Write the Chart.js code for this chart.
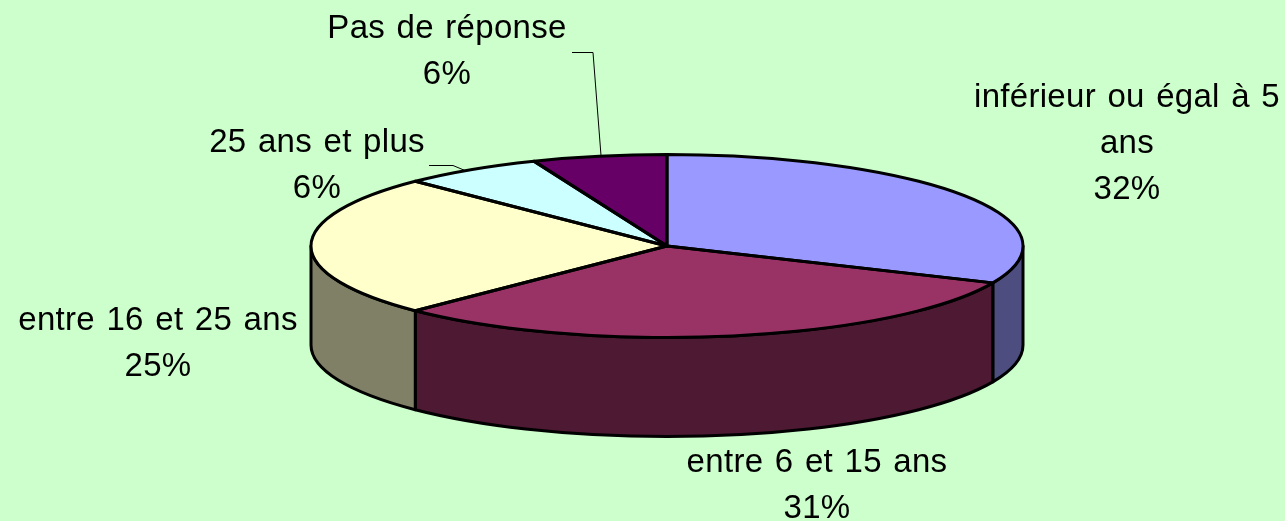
<!DOCTYPE html>
<html lang="fr">
<head>
<meta charset="utf-8">
<title>Répartition</title>
<script src="https://cdn.jsdelivr.net/npm/chart.js@4/dist/chart.umd.min.js"></script>
<style>
html,body{margin:0;padding:0;background:#CCFFCC;overflow:hidden}
canvas{display:block}
</style>
</head>
<body>
<canvas id="c" width="1285" height="521"></canvas>
<script>
const categories = ["inférieur ou égal à 5 ans","entre 6 et 15 ans","entre 16 et 25 ans","25 ans et plus","Pas de réponse"];
const sliceValues = [31.6,30.9,25.0,6.4,6.1];
const percentLabels = ["32%","31%","25%","6%","6%"];
const topColors = ["#9999FF","#993366","#FFFFCC","#CCFFFF","#660066"];
const wallColors = ["#4D4D80","#4D1933","#808066","#668080","#330033"];

const labelLines = [["inférieur ou égal à 5","ans"],["entre 6 et 15 ans"],["entre 16 et 25 ans"],["25 ans et plus"],["Pas de réponse"]];
const labelAnchors = [[1127,107],[817,472],[158,330],[317,152],[447,38]];
const leaders = [null,null,null,[[429,165],[453,165],[465,170]],[[572,52],[593,52],[601,155]]];

const SX = 356/200, SY = 91.5/200, WALL = 99, LH = 46;

function arcsOf(chart){ return chart.getDatasetMeta(0).data; }

const pie3d = {
  id:'pie3d',
  beforeDraw(chart){
    const c = chart.ctx;
    c.save(); c.fillStyle = '#CCFFCC'; c.fillRect(0,0,chart.width,chart.height); c.restore();
  },
  beforeDatasetsDraw(chart){
    const c = chart.ctx;
    c.save();
    c.lineWidth = 3; c.strokeStyle = '#000'; c.lineJoin = 'round';
    arcsOf(chart).forEach((el,i)=>{
      const a = Math.max(el.startAngle,0), b = Math.min(el.endAngle,Math.PI);
      if (b <= a) return;
      const rx = el.outerRadius*SX, ry = el.outerRadius*SY;
      c.beginPath();
      c.ellipse(el.x,el.y,rx,ry,0,a,b,false);
      c.ellipse(el.x,el.y+WALL,rx,ry,0,b,a,true);
      c.closePath();
      c.fillStyle = wallColors[i];
      c.fill(); c.stroke();
    });
    c.restore();
    const m = arcsOf(chart)[0];
    c.save();
    c.translate(m.x,m.y); c.scale(SX,SY); c.translate(-m.x,-m.y);
  },
  afterDatasetsDraw(chart){
    const c = chart.ctx;
    c.restore();
    c.save();
    c.lineWidth = 3; c.strokeStyle = '#000'; c.lineJoin = 'round';
    arcsOf(chart).forEach(el=>{
      c.beginPath();
      c.moveTo(el.x,el.y);
      c.ellipse(el.x,el.y,el.outerRadius*SX,el.outerRadius*SY,0,el.startAngle,el.endAngle,false);
      c.closePath();
      c.stroke();
    });
    c.restore();
  },
  afterDraw(chart){
    const c = chart.ctx;
    c.save();
    c.strokeStyle = '#000'; c.lineWidth = 1;
    leaders.forEach(l=>{
      if(!l) return;
      c.beginPath();
      l.forEach((p,i)=> i ? c.lineTo(p[0],p[1]+.5) : c.moveTo(p[0],p[1]+.5));
      c.stroke();
    });
    c.fillStyle = '#000';
    c.font = '33px "Liberation Sans", Arial, sans-serif';
    c.letterSpacing = '0.3px';
    c.wordSpacing = '2px';
    c.textAlign = 'center'; c.textBaseline = 'alphabetic';
    categories.forEach((_,i)=>{
      const [x,y] = labelAnchors[i];
      const lines = labelLines[i].concat(percentLabels[i]);
      lines.forEach((t,k)=> c.fillText(t,x,y+k*LH));
    });
    c.restore();
  }
};

new Chart(document.getElementById('c'),{
  type:'pie',
  data:{labels:categories,datasets:[{data:sliceValues,backgroundColor:topColors,borderWidth:0,clip:false}]},
  options:{
    responsive:false,animation:false,
    layout:{padding:{left:467,right:418,top:46,bottom:75}},
    plugins:{legend:{display:false},tooltip:{enabled:false}}
  },
  plugins:[pie3d]
});
</script>
</body>
</html>
